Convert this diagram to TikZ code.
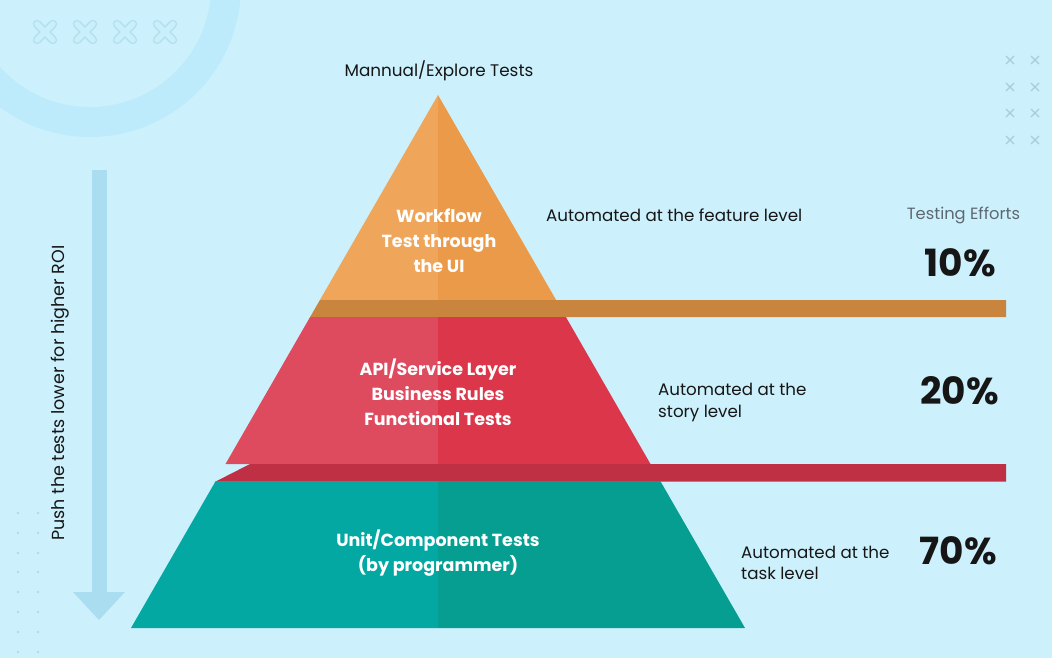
\documentclass[tikz,border=0pt]{standalone}
\usepackage{fontspec}
\setmainfont{Poppins}
\definecolor{bgc}{HTML}{CCF1FD}
\definecolor{ringc}{HTML}{BDEBFB}
\definecolor{xout}{HTML}{B3E0EC}
\definecolor{xin}{HTML}{C8EFFA}
\definecolor{smallx}{HTML}{A8CCD8}
\definecolor{dotc}{HTML}{B3D9E5}
\definecolor{arrowc}{HTML}{A9DDEF}
\definecolor{orL}{HTML}{EFA65A}
\definecolor{orR}{HTML}{EA9A48}
\definecolor{orBar}{HTML}{C9853E}
\definecolor{rdL}{HTML}{DE4A5E}
\definecolor{rdR}{HTML}{DB3649}
\definecolor{rdBar}{HTML}{BF3044}
\definecolor{tlL}{HTML}{03A8A3}
\definecolor{tlR}{HTML}{069E90}
\definecolor{txt}{HTML}{161616}
\definecolor{graytxt}{HTML}{5E6872}
\begin{document}
\begin{tikzpicture}[x=1pt,y=-1pt,
  bandtext/.style={text=white,font=\fontsize{17.5}{25}\selectfont\bfseries,align=center,inner sep=0pt},
  sidetext/.style={text=txt,font=\fontsize{16.7}{21.5}\selectfont,align=left,anchor=west,inner sep=0pt},
  pct/.style={text=txt,font=\fontsize{37.5}{40}\selectfont\bfseries,anchor=east,inner sep=0pt},
  tinyx/.style={draw=smallx,line width=1.1pt}]
\useasboundingbox (0,0) rectangle (1052,658);
\fill[bgc] (0,0) rectangle (1052,658);
% decorative ring
\draw[ringc,line width=30pt] (90,-14) circle (136pt);
% big outlined x marks
\foreach \cx in {45,85,125,165}{
  \draw[xout,line width=8.5pt,line cap=round] (\cx-8,24) -- (\cx+8,40) (\cx-8,40) -- (\cx+8,24);
  \draw[xin,line width=5.5pt,line cap=round] (\cx-8,24) -- (\cx+8,40) (\cx-8,40) -- (\cx+8,24);
}
% small x marks top right
\foreach \cx in {1010,1035}{
  \foreach \cy in {60,87,113,140}{
    \draw[tinyx] (\cx-4,\cy-4) -- (\cx+4,\cy+4) (\cx-4,\cy+4) -- (\cx+4,\cy-4);
  }
}
% dots bottom left
\foreach \cx in {18,38}{
  \foreach \cy in {513,533,553,572,592,612,632,652}{
    \fill[dotc] (\cx,\cy) circle (1.4pt);
  }
}
% arrow
\fill[arrowc] (92,170) rectangle (107,593);
\fill[arrowc] (73,592) -- (125,592) -- (99,620) -- cycle;
\node[rotate=90,text=txt,font=\fontsize{17.5}{20}\selectfont,inner sep=0pt] (push) at (60,393) {Push the tests lower for higher ROI};
% top band
\fill[orL] (438,95) -- (438,300) -- (319.9,300) -- cycle;
\fill[orR] (438,95) -- (438,300) -- (556.1,300) -- cycle;
\fill[orBar] (319.9,300) -- (1006,300) -- (1006,317) -- (310.1,317) -- cycle;
% middle band
\fill[rdL] (310.1,317) -- (438,317) -- (438,464) -- (225.5,464) -- cycle;
\fill[rdR] (565.9,317) -- (438,317) -- (438,464) -- (650.5,464) -- cycle;
\fill[rdBar] (250,464) -- (1006,464) -- (1006,481.5) -- (215.7,481.5) -- cycle;
% bottom band
\fill[tlL] (215.7,481) -- (438,481) -- (438,628) -- (131,628) -- cycle;
\fill[tlR] (660.3,481) -- (438,481) -- (438,628) -- (745,628) -- cycle;
% texts
\node[text=txt,font=\fontsize{16.8}{20}\selectfont,inner sep=0pt] (top) at (439,71) {Mannual/Explore Tests};
\node[bandtext] (wf) at (439,241) {Workflow\\Test through\\the UI};
\node[bandtext] (api) at (438,392) {API/Service Layer\\Business Rules\\Functional Tests};
\node[bandtext] (unit) at (438,553) {Unit/Component Tests\\(by programmer)};
\node[sidetext] (feat) at (546,215) {Automated at the feature level};
\node[sidetext] (story) at (658,402.5) {Automated at the\\story level};
\node[sidetext] (task) at (741,563) {Automated at the\\task level};
\node[text=graytxt,font=\fontsize{16.3}{20}\selectfont,inner sep=0pt] (eff) at (963.5,215) {Testing Efforts};
\node[pct] (p10) at (996,263) {10\%};
\node[pct] (p20) at (999,391) {20\%};
\node[pct] (p70) at (997,551) {70\%};
\end{tikzpicture}
\end{document}
